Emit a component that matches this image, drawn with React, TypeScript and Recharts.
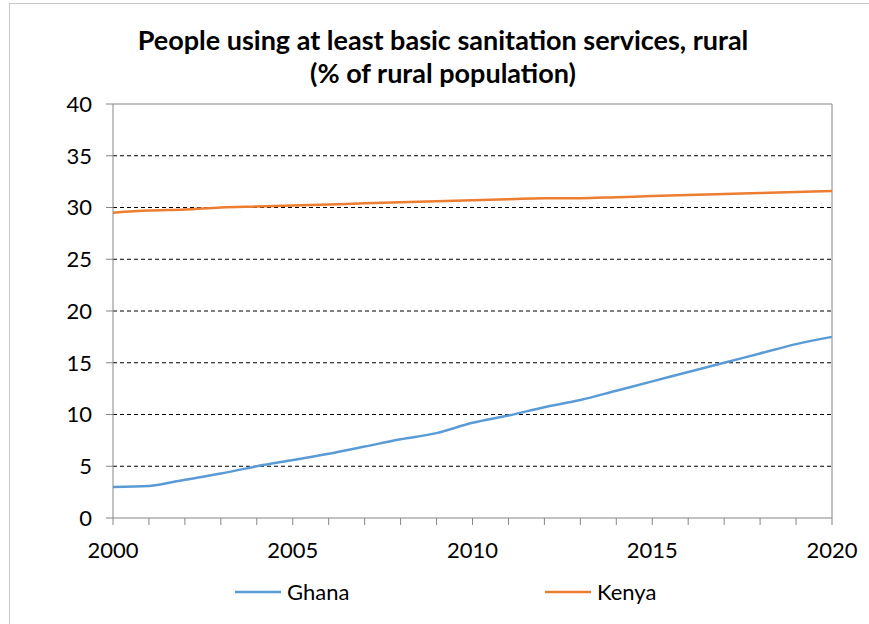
import { LineChart, Line, XAxis, YAxis, CartesianGrid, ReferenceLine, Legend } from "recharts";

const years = [
  2000, 2001, 2002, 2003, 2004, 2005, 2006, 2007, 2008, 2009, 2010,
  2011, 2012, 2013, 2014, 2015, 2016, 2017, 2018, 2019, 2020,
];
const ghana = [
  3.0, 3.1, 3.7, 4.3, 5.0, 5.6, 6.2, 6.9, 7.6, 8.2, 9.2,
  9.9, 10.7, 11.4, 12.3, 13.2, 14.1, 15.0, 15.9, 16.8, 17.5,
];
const kenya = [
  29.5, 29.7, 29.8, 30.0, 30.1, 30.2, 30.3, 30.4, 30.5, 30.6, 30.7,
  30.8, 30.9, 30.9, 31.0, 31.1, 31.2, 31.3, 31.4, 31.5, 31.6,
];
const yTicks = [0, 5, 10, 15, 20, 25, 30, 35, 40];
const gridValues = [5, 10, 15, 20, 25, 30, 35];

const rows = years.map((year, i) => ({ year, Ghana: ghana[i], Kenya: kenya[i] }));

const FONT = "Lato, 'Open Sans', sans-serif";
const AXIS_GRAY = "#868686";

function LegendBox({ payload }: { payload?: { value: string; color: string }[] }) {
  return (
    <div style={{ display: "flex", fontFamily: FONT, fontSize: 22, color: "#000" }}>
      {(payload ?? []).map((p) => (
        <div key={p.value} style={{ width: 310, display: "flex", alignItems: "center" }}>
          <svg width={46} height={4} style={{ marginRight: 6 }}>
            <line x1={0} y1={2} x2={46} y2={2} stroke={p.color} strokeWidth={2.5} />
          </svg>
          <span>{p.value}</span>
        </div>
      ))}
    </div>
  );
}

export default function App() {
  return (
    <div style={{ position: "absolute", left: 0, top: 0, width: 869, height: 624, background: "#fff", overflow: "hidden" }}>
      <div
        style={{
          position: "absolute",
          left: 9,
          top: 3,
          width: 880,
          height: 640,
          border: "1px solid #c8c8c8",
        }}
      />
      <div
        style={{
          position: "absolute",
          left: 0,
          top: 23,
          width: 886,
          textAlign: "center",
          fontFamily: FONT,
          fontWeight: 700,
          fontSize: 27,
          lineHeight: "33px",
          color: "#000",
        }}
      >
        People using at least basic sanitation services, rural
        <br />
        (% of rural population)
      </div>
      <div style={{ position: "absolute", left: 0, top: 0 }}>
        <LineChart
          width={869}
          height={624}
          data={rows}
          margin={{ top: 104, right: 37, bottom: 76, left: 73 }}
        >
          <CartesianGrid
            vertical={false}
            horizontalValues={gridValues}
            stroke="#000"
            strokeDasharray="4 3"
          />
          <ReferenceLine y={40} stroke={AXIS_GRAY} />
          <ReferenceLine x={2020} stroke={AXIS_GRAY} />
          <XAxis
            dataKey="year"
            type="number"
            domain={[2000, 2020]}
            ticks={years}
            interval={0}
            tickFormatter={(v: number) => (v % 5 === 0 ? String(v) : "")}
            stroke={AXIS_GRAY}
            tickSize={7}
            tickMargin={17}
            tick={{ fill: "#000", fontSize: 22, fontFamily: FONT }}
          />
          <YAxis
            width={40}
            domain={[0, 40]}
            ticks={yTicks}
            interval={0}
            stroke={AXIS_GRAY}
            tickSize={7}
            tickMargin={14}
            tick={{ fill: "#000", fontSize: 22, fontFamily: FONT }}
          />
          <Legend
            layout="horizontal"
            verticalAlign="middle"
            align="center"
            wrapperStyle={{ left: 235, top: 578, width: 640 }}
            content={(props: any) => <LegendBox payload={props.payload} />}
          />
          <Line
            type="monotone"
            dataKey="Ghana"
            stroke="#5b9bd5"
            strokeWidth={2.5}
            dot={false}
            isAnimationActive={false}
          />
          <Line
            type="monotone"
            dataKey="Kenya"
            stroke="#ed7d31"
            strokeWidth={2.5}
            dot={false}
            isAnimationActive={false}
          />
        </LineChart>
      </div>
    </div>
  );
}
